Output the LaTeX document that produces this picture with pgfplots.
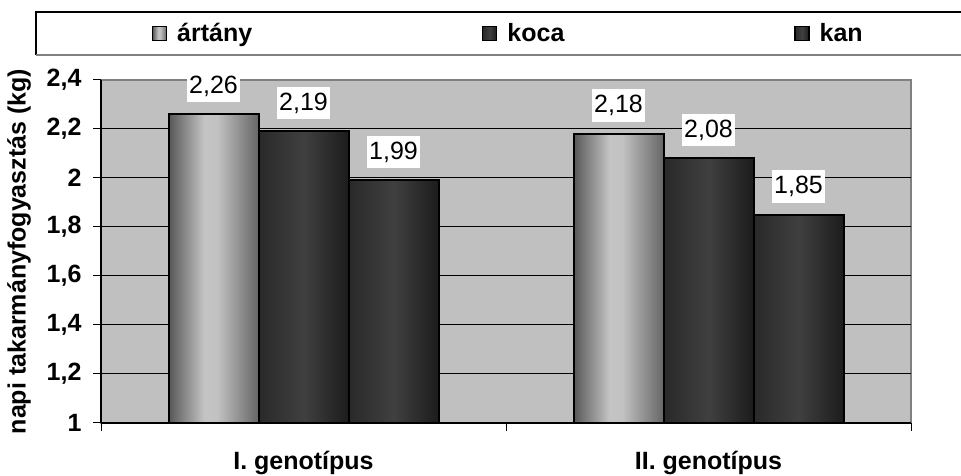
\documentclass[border=0pt]{standalone}
\usepackage{fontspec}
\setmainfont{Liberation Sans}
\usepackage{pgfplots}
\pgfplotsset{compat=1.18}

\definecolor{plotbg}{RGB}{192,192,192}
\definecolor{framegray}{RGB}{128,128,128}

% bar fills: light cylinder-like gradient and dark gradient
\pgfdeclarehorizontalshading{lightbar}{100bp}{rgb(0bp)=(.34,.34,.34); rgb(25bp)=(.34,.34,.34); rgb(45bp)=(.77,.77,.77); rgb(52bp)=(.76,.76,.76); rgb(75bp)=(.40,.40,.40); rgb(100bp)=(.40,.40,.40)}
\pgfdeclarehorizontalshading{darkbar}{100bp}{rgb(0bp)=(.16,.16,.16); rgb(25bp)=(.16,.16,.16); rgb(50bp)=(.25,.25,.25); rgb(75bp)=(.11,.11,.11); rgb(100bp)=(.11,.11,.11)}

\newcommand{\chartfont}{\fontsize{25bp}{30bp}\selectfont}

% small square legend marker; each bar is its own plot so the gradient fits the bar
\pgfplotsset{
  sqlegend/.style={legend image code/.code={\draw[##1, line width=1.2bp] (0bp,-7bp) rectangle (14bp,7bp);}},
  artany/.style={draw=black, line width=2bp, shade, shading=lightbar, bar shift=-90bp, sqlegend},
  koca/.style={draw=black, line width=2bp, shade, shading=darkbar, bar shift=0bp, sqlegend},
  kan/.style={draw=black, line width=2bp, shade, shading=darkbar, bar shift=90bp, sqlegend},
}

\begin{document}
\begin{tikzpicture}[x=1bp,y=1bp]
\path[use as bounding box] (0,0) rectangle (961,476);
\begin{axis}[
  at={(101bp,53bp)}, anchor=south west,
  scale only axis, width=810bp, height=343bp,
  clip=false,
  ybar=0pt, bar width=90bp,
  xmin=-0.5, xmax=1.5, ymin=1, ymax=2.4,
  xtick={-0.5,0.5,1.5}, x tick label as interval,
  xticklabels={I. genotípus, II. genotípus},
  x tick label style={yshift=-17bp},
  ytick={1,1.2,1.4,1.6,1.8,2,2.2},
  extra y ticks={2.4}, extra y tick style={grid=none},
  y tick label style={xshift=-8bp},
  ymajorgrids, grid style={black, line width=1bp},
  axis x line*=bottom, axis y line*=left,
  axis line style={-, black, line width=1.5bp},
  axis background/.style={fill=plotbg, draw=framegray, line width=1.5bp},
  tick align=outside, major tick length=8bp,
  tick style={black, line width=1bp},
  /pgf/number format/use comma,
  /pgf/number format/assume math mode=true,
  tick label style={font=\chartfont\bfseries},
  ylabel={napi takarmányfogyasztás (kg)},
  every axis y label/.style={at={(rel axis cs:-0.1012,0.5)}, rotate=90, anchor=center, font=\chartfont\bfseries},
  nodes near coords={\pgfmathprintnumber[fixed,precision=2,use comma]{\pgfplotspointmeta}},
  nodes near coords style={font=\chartfont, fill=white, inner xsep=2bp, inner ysep=6bp, anchor=south, yshift=11bp},
  legend columns=3,
  legend cell align=left,
  legend style={at={(0.063,1.1356)}, anchor=west, draw=none, fill=none,
    inner sep=0pt, outer sep=0pt, font=\chartfont\bfseries,
    nodes={inner sep=0pt},
    /tikz/every odd column/.append style={column sep=10bp},
    /tikz/every even column/.append style={column sep=230bp}},
]
% I. genotípus
\addplot[artany] coordinates {(0,2.26)};
\addplot[koca]   coordinates {(0,2.19)};
\addplot[kan]    coordinates {(0,1.99)};
% II. genotípus
\addplot[artany, forget plot] coordinates {(1,2.18)};
\addplot[koca, forget plot]   coordinates {(1,2.08)};
\addplot[kan, forget plot]    coordinates {(1,1.85)};
\legend{ártány, koca, kan}
\end{axis}
% legend frame, open towards the right edge
\draw[black, line width=1.5bp] (961,464) -- (36,464) -- (36,421);
\draw[framegray, line width=1.5bp] (36,421) -- (961,421);
\end{tikzpicture}
\end{document}
